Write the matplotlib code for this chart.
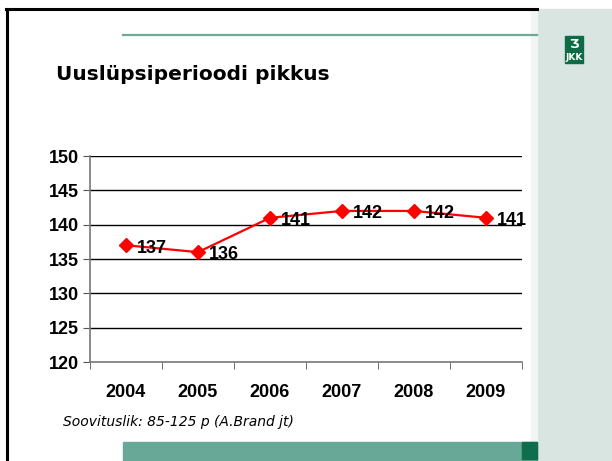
import matplotlib
matplotlib.use("Agg")
import matplotlib.pyplot as plt
from matplotlib.patches import Rectangle
from matplotlib.lines import Line2D

years = ["2004", "2005", "2006", "2007", "2008", "2009"]
values = [137, 136, 141, 142, 142, 141]
yticks = [120, 125, 130, 135, 140, 145, 150]
title = "Uuslüpsiperioodi pikkus"
note = "Soovituslik: 85-125 p (A.Brand jt)"

W, H = 612, 461
fig = plt.figure(figsize=(W / 100, H / 100), dpi=100)
fig.patch.set_facecolor("white")

def px(x0, y0, x1, y1):
    # pixel box (top-left origin) -> figure fraction rect
    return [x0 / W, 1 - y1 / H, (x1 - x0) / W, (y1 - y0) / H]

# right side panel
fig.patches.append(Rectangle((537 / W, 0), (W - 537) / W, 1 - 9 / H,
                             transform=fig.transFigure, color="#d9e5e0", zorder=0))
fig.patches.append(Rectangle((531 / W, 0), 6 / W, 1 - 9 / H,
                             transform=fig.transFigure, color="#f1f6f4", zorder=0))
# borders
fig.lines.append(Line2D([6.5 / W, 6.5 / W], [0, 1 - 9 / H], transform=fig.transFigure,
                        color="black", lw=2.2))
fig.lines.append(Line2D([5.5 / W, 537 / W], [1 - 9.5 / H, 1 - 9.5 / H], transform=fig.transFigure,
                        color="black", lw=2.2))
# thin green line at top
fig.lines.append(Line2D([123 / W, 537 / W], [1 - 35 / H, 1 - 35 / H], transform=fig.transFigure,
                        color="#6fa894", lw=1.6))
# bottom green bar
fig.patches.append(Rectangle((123 / W, 0), (537 - 123) / W, (H - 442) / H,
                             transform=fig.transFigure, color="#67a896", zorder=1))
fig.patches.append(Rectangle((522 / W, 2 / H), (537 - 522) / W, (459 - 442) / H,
                             transform=fig.transFigure, color="#0e6e4e", zorder=2))
# logo
fig.patches.append(Rectangle((565 / W, 1 - 52 / H), 18 / W, 16 / H,
                             transform=fig.transFigure, color="#0e6b45", zorder=2))
fig.patches.append(Rectangle((565 / W, 1 - 63 / H), 18 / W, 10 / H,
                             transform=fig.transFigure, color="#0e6b45", zorder=2))
fig.text(574 / W, 1 - 44 / H, "Ʒ", color="white", fontsize=9, fontweight="bold",
         ha="center", va="center", zorder=3)
fig.text(574 / W, 1 - 58 / H, "JKK", color="white", fontsize=6.5, fontweight="bold",
         ha="center", va="center", zorder=3, family="Liberation Sans Narrow")

# title
fig.text(56 / W, 1 - 74 / H, title, fontsize=14.5, fontweight="bold",
         family="DejaVu Sans", ha="left", va="center")

# chart axes
ax = fig.add_axes(px(90, 156, 522, 362))
ax.set_facecolor("none")
x = list(range(len(years)))
ax.plot(x, values, color="#ff0000", lw=1.6, marker="D", markersize=7, zorder=3)
for xi, v in zip(x, values):
    ax.annotate(str(v), (xi, v), xytext=(8, -2), textcoords="offset points",
                ha="left", va="center", fontsize=13, fontweight="bold",
                family="Liberation Sans", zorder=4)
ax.set_xlim(-0.5, len(years) - 0.5)
ax.set_ylim(120, 150)
ax.set_yticks(yticks)
ax.set_yticklabels([str(t) for t in yticks], fontsize=13, fontweight="bold",
                   family="Liberation Sans")
for t in yticks[1:]:
    ax.axhline(t, color="black", lw=1.0, zorder=1)
ax.set_xticks(x)
ax.set_xticklabels(years, fontsize=13, fontweight="bold", family="Liberation Sans")
ax.set_xticks([i - 0.5 for i in range(len(years) + 1)], minor=True)
ax.tick_params(axis="x", which="major", length=0, pad=16)
ax.tick_params(axis="x", which="minor", length=5, color="#555555", direction="out")
ax.tick_params(axis="y", length=5, color="#555555", direction="out", pad=3)
for s in ["top", "right"]:
    ax.spines[s].set_visible(False)
ax.spines["left"].set_color("#777777")
ax.spines["bottom"].set_color("#777777")
ax.spines["left"].set_linewidth(1.2)
ax.spines["bottom"].set_linewidth(1.2)

fig.text(63 / W, 1 - 422 / H, note, fontsize=10, style="italic",
         family="DejaVu Sans", ha="left", va="center")

fig.savefig("out.png", dpi=100)
